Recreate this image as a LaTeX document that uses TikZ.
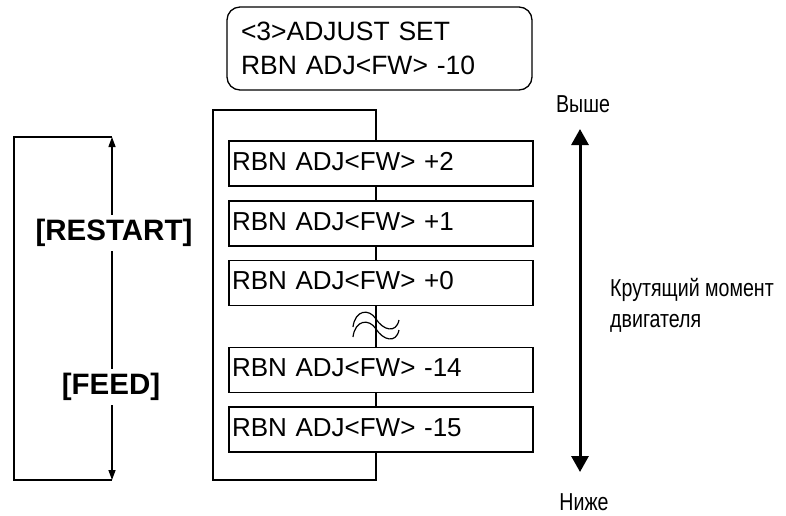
\documentclass[tikz,border=0pt]{standalone}
\usepackage{fontspec}
\setmainfont{Liberation Sans}
\newfontfamily\narrowfont[FakeStretch=0.8]{Liberation Sans}
\usetikzlibrary{arrows.meta}
\tikzset{
  line/.style={line width=1.3pt},
  valbox/.style={draw, line width=1.3pt, fill=white, minimum width=304pt, minimum height=45pt,
    text width=298pt, align=left, inner xsep=3pt, inner ysep=0pt,
    text height=18.6pt, text depth=5pt, font=\fontsize{26}{30}\selectfont},
  keylabel/.style={fill=white, inner sep=4pt, font=\fontsize{29.5}{33}\selectfont\bfseries},
  rulab/.style={font=\narrowfont\fontsize{24.5}{31}\selectfont, inner sep=0pt},
}
\begin{document}
\begin{tikzpicture}[x=1pt,y=-1pt]
\useasboundingbox (0,0) rectangle (786,515);
% display box
\node[draw, line width=1.3pt, rounded corners=13pt, minimum width=305pt, minimum height=83pt,
  text width=277pt, align=left, inner xsep=14pt, font=\fontsize{26.5}{34}\selectfont] (disp) at (379.5,48.5)
  {<3>ADJUST SET\\RBN ADJ<FW> -10};
% loop frame
\coordinate (ftl) at (213,110);
\coordinate (ftr) at (376,110);
\coordinate (fbl) at (213,480);
\coordinate (fbr) at (376,480);
\draw[line] (ftr) -- (ftl) -- (fbl) -- (fbr) -- cycle;
% value boxes
\node[valbox] (b1) at (381,163.5) {RBN ADJ<FW> +2};
\node[valbox] (b2) at (381,223.5) {RBN ADJ<FW> +1};
\node[valbox] (b3) at (381,283) {RBN ADJ<FW> +0};
\node[valbox] (b4) at (381,370) {RBN ADJ<FW> -14};
\node[valbox] (b5) at (381,429.5) {RBN ADJ<FW> -15};
% break symbol
\draw[line width=1.2pt] (353,327) .. controls (355,310) and (369,308) .. (376,319)
  .. controls (383,330) and (396,334) .. (399,320);
\draw[line width=1.2pt] (353,337) .. controls (355,320) and (369,318) .. (376,329)
  .. controls (383,340) and (396,344) .. (399,330);
% left bracket with keys
\coordinate (lt) at (112,137);
\coordinate (lb) at (112,480);
\coordinate (ltl) at (14,137);
\coordinate (lbl) at (14,480);
\draw[line] (lt) -- (ltl) -- (lbl) -- (lb);
\draw[line, {Triangle[width=7pt,length=10pt]}-{Triangle[width=7pt,length=10pt]}] (lt) -- (lb);
\node[keylabel] (restart) at (114,233) {[RESTART]};
\node[keylabel] (feed) at (111,387) {[FEED]};
% right torque arrow
\coordinate (at) at (580,129);
\coordinate (ab) at (580,472);
\draw[line width=3pt, {Triangle[width=17pt,length=16pt]}-{Triangle[width=17pt,length=16pt]}] (at) -- (ab);
\node[rulab, anchor=base] (hi) at (583,112) {Выше};
\node[rulab, anchor=base] (lo) at (584,510) {Ниже};
\node[rulab, anchor=base west, align=left] (torque) at (610,327) {Крутящий момент\\двигателя};
\end{tikzpicture}
\end{document}
